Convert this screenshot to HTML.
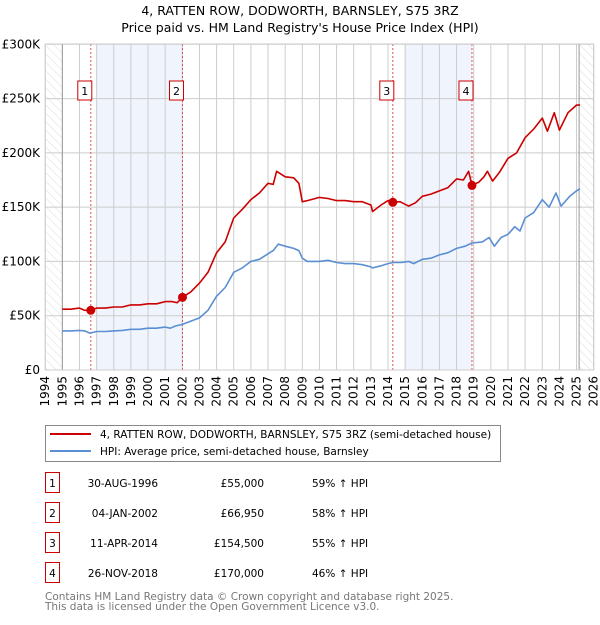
<!DOCTYPE html>
<html><head><meta charset="utf-8"><style>
body{margin:0;background:#fff;font-family:"Liberation Sans","DejaVu Sans",sans-serif;}
svg text{font-family:"DejaVu Sans","Liberation Sans",sans-serif;}
</style></head><body>
<svg width="600" height="620" viewBox="0 0 600 620" xmlns="http://www.w3.org/2000/svg" id="svg">
<defs><pattern id="hatch" width="6" height="6" patternUnits="userSpaceOnUse" patternTransform="rotate(-45)"><line x1="0" y1="0" x2="0" y2="6" stroke="#ddd" stroke-width="1"/></pattern></defs>
<text x="300" y="15" font-size="12.5" text-anchor="middle">4, RATTEN ROW, DODWORTH, BARNSLEY, S75 3RZ</text>
<text x="300" y="32" font-size="12.5" text-anchor="middle">Price paid vs. HM Land Registry's House Price Index (HPI)</text>
<g id="plot"></g>
<rect x="45.5" y="425.5" width="455" height="36" fill="#fff" stroke="#888"/>
<line x1="50" y1="434" x2="91" y2="434" stroke="#cc0000" stroke-width="2"/>
<text x="100" y="438" font-size="10.5">4, RATTEN ROW, DODWORTH, BARNSLEY, S75 3RZ (semi-detached house)</text>
<line x1="50" y1="451" x2="91" y2="451" stroke="#5b8fd4" stroke-width="2"/>
<text x="100" y="455" font-size="10.5">HPI: Average price, semi-detached house, Barnsley</text>
<g id="table"></g>
<text x="45" y="600" font-size="10.5" fill="#777">Contains HM Land Registry data © Crown copyright and database right 2025.</text>
<text x="45" y="610" font-size="10.5" fill="#777">This data is licensed under the Open Government Licence v3.0.</text>
</svg>
<script>
const yTicks=[0,50000,100000,150000,200000,250000,300000];
const yTickLabels=["£0","£50K","£100K","£150K","£200K","£250K","£300K"];
const years=[1994,1995,1996,1997,1998,1999,2000,2001,2002,2003,2004,2005,2006,2007,2008,2009,2010,2011,2012,2013,2014,2015,2016,2017,2018,2019,2020,2021,2022,2023,2024,2025,2026];
const hpiT=[1995,1995.5,1996,1996.3,1996.6,1997,1997.5,1998,1998.5,1999,1999.5,2000,2000.5,2001,2001.3,2001.6,2002,2002.5,2003,2003.5,2004,2004.5,2005,2005.5,2006,2006.5,2007,2007.3,2007.6,2008,2008.5,2008.8,2009,2009.3,2010,2010.5,2011,2011.5,2012,2012.5,2013,2013.1,2013.6,2014,2014.3,2014.8,2015.2,2015.5,2016,2016.5,2017,2017.5,2018,2018.5,2018.9,2019.5,2019.9,2020.2,2020.6,2021,2021.4,2021.7,2022,2022.5,2023,2023.4,2023.8,2024.1,2024.6,2025,2025.2];
const hpiV=[36,36,36.5,36,34,35.5,35.5,36,36.5,37.5,37.5,38.5,38.5,39.5,38.5,40.5,42,45,48,55,68,76,90,94,100,102,107,110,116,114,112,110,103,100,100,101,99,98,98,97,95,94,96,98,99,99,100,98,102,103,106,108,112,114,117,118,122,114,122,125,132,128,140,145,157,150,163,151,160,165,167];
const ppT=[1995,1995.5,1996,1996.3,1996.66,1997,1997.5,1998,1998.5,1999,1999.5,2000,2000.5,2001,2001.4,2001.7,2002.01,2002.5,2003,2003.5,2004,2004.5,2005,2005.5,2006,2006.5,2007,2007.3,2007.5,2008,2008.5,2008.8,2009,2009.3,2010,2010.5,2011,2011.5,2012,2012.5,2013,2013.1,2013.6,2014,2014.28,2014.7,2015.2,2015.6,2016,2016.5,2017,2017.5,2018,2018.4,2018.7,2018.9,2019.3,2019.6,2019.8,2020.1,2020.5,2021,2021.5,2022,2022.5,2023,2023.3,2023.7,2024,2024.5,2025,2025.2];
const ppV=[56,56,57,55,55,57,57,58,58,60,60,61,61,63,63,62,66.95,72,80,90,108,118,140,148,157,163,172,171,183,178,177,172,155,156,159,158,156,156,155,155,152,146,152,156,154.5,155,151,154,160,162,165,168,176,175,183,170,173,178,183,174,182,195,200,214,222,232,220,237,221,237,244,244];
const saleT=[1996.66,2002.01,2014.28,2018.9];
const saleV=[55000,66950,154500,170000];
const saleLabels=["1","2","3","4"];
const saleDates=["30-AUG-1996","04-JAN-2002","11-APR-2014","26-NOV-2018"];
const salePrices=["£55,000","£66,950","£154,500","£170,000"];
const saleHpi=["59% ↑ HPI","58% ↑ HPI","55% ↑ HPI","46% ↑ HPI"];
const NS="http://www.w3.org/2000/svg";
const X0=45.2,PX=17.14,Y0=370,YS=325.7/300000;
const xs=t=>X0+(t-1994)*PX, ys=v=>Y0-v*YS;
const plot=document.getElementById('plot');
function mk(tag,a,parent){const e=document.createElementNS(NS,tag);for(const k in a)e.setAttribute(k,a[k]);(parent||plot).appendChild(e);return e;}
let e;
e=mk('rect',{x:xs(1994),y:44,width:xs(1995)-xs(1994),height:326,fill:"url(#hatch)"});


e=mk('rect',{x:xs(2025.15),y:44,width:xs(2026)-xs(2025.15)+1,height:326,fill:"url(#hatch)"});


[[1997,2002.01],[2015,2018.9]].forEach(function(r){
 e=mk('rect',{x:xs(r[0]),y:44,width:xs(r[1])-xs(r[0]),height:326,fill:"#f0f4fd"});
 
 
});
years.forEach(function(y){
 e=mk('line',{x1:xs(y),x2:xs(y),y1:44,y2:370,stroke:"#ccc"});
 
 
 e=mk('text',{x:0,y:0,"font-size":12,"text-anchor":"end",transform:"translate("+(xs(y)+4)+",376) rotate(-90)"});
 e.textContent=y;
 
 
});
yTicks.forEach(function(v,i){
 e=mk('line',{x1:X0,x2:xs(2026),y1:ys(v),y2:ys(v),stroke:"#ccc"});
 
 
 e=mk('text',{x:40,y:ys(v)+4,"font-size":12,"text-anchor":"end"});
 e.textContent=yTickLabels[i];
 
 
});
e=mk('line',{x1:xs(1995),x2:xs(1995),y1:44,y2:370,stroke:"#999"});


e=mk('line',{x1:xs(2025.15),x2:xs(2025.15),y1:44,y2:370,stroke:"#999"});


saleT.forEach(function(t,i){
 e=mk('line',{x1:xs(t),x2:xs(t),y1:44,y2:370,stroke:"#e05050","stroke-dasharray":"2,2"});
 
 
 e=mk('rect',{x:xs(t)-13,y:81,width:14,height:19,fill:"#fff",stroke:"#cc0000"});
 
 
 e=mk('text',{x:xs(t)-6,y:95,"font-size":11,"text-anchor":"middle"});
 e.textContent=saleLabels[i];
 
 
});
function line(T,V,c,n){
 const d=T.map((t,i)=>(i?'L':'M')+xs(t).toFixed(1)+','+ys(V[i]*1000).toFixed(1)).join('');
 e=mk('path',{d:d,fill:"none",stroke:c,"stroke-width":1.6,"stroke-linejoin":"round"});
 
 
}
line(hpiT,hpiV,"#5b8fd4","hpi-line");
line(ppT,ppV,"#cc0000","price-paid-line");
saleT.forEach(function(t,i){
 e=mk('circle',{cx:xs(t),cy:ys(saleV[i]),r:4.5,fill:"#cc0000"});
 
 
});
e=mk('rect',{x:X0,y:44,width:xs(2026)-X0,height:326,fill:"none",stroke:"#ccc"});


const tb=document.getElementById('table');
saleT.forEach(function(t,i){
 const y=483+i*30;
 e=mk('rect',{x:45.5,y:y-10.5,width:14,height:20,fill:"#fff",stroke:"#cc0000"},tb);
 
 
 e=mk('text',{x:52.5,y:y+4,"font-size":10.5,"text-anchor":"middle"},tb);e.textContent=saleLabels[i];
 
 
 e=mk('text',{x:158,y:y+4,"font-size":10.5,"text-anchor":"end"},tb);e.textContent=saleDates[i];
 
 
 e=mk('text',{x:264,y:y+4,"font-size":10.5,"text-anchor":"end"},tb);e.textContent=salePrices[i];
 
 
 e=mk('text',{x:312,y:y+4,"font-size":10.5},tb);e.textContent=saleHpi[i];
 
 
});
</script>
</body></html>
